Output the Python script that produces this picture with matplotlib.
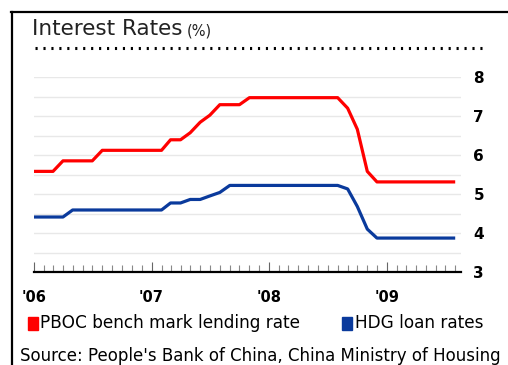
import numpy as np
import pandas as pd
import matplotlib
matplotlib.use('Agg')
import matplotlib.pyplot as plt
import matplotlib.dates as mdates
from matplotlib.lines import Line2D
from matplotlib.patches import Rectangle

# monthly observations, Jan 2006 .. Aug 2009
months = pd.date_range('2006-01-01', '2009-08-01', freq='MS')
pboc = [5.58, 5.58, 5.58, 5.85, 5.85, 5.85, 5.85, 6.12, 6.12, 6.12, 6.12,
        6.12, 6.12, 6.12, 6.39, 6.39, 6.57, 6.84, 7.02, 7.29, 7.29, 7.29,
        7.47, 7.47, 7.47, 7.47, 7.47, 7.47, 7.47, 7.47, 7.47, 7.47,
        7.20, 6.66, 5.58, 5.31, 5.31, 5.31, 5.31, 5.31, 5.31, 5.31, 5.31, 5.31]
hdg = [4.41, 4.41, 4.41, 4.41, 4.59, 4.59, 4.59, 4.59, 4.59, 4.59, 4.59,
       4.59, 4.59, 4.59, 4.77, 4.77, 4.86, 4.86, 4.95, 5.04, 5.22, 5.22,
       5.22, 5.22, 5.22, 5.22, 5.22, 5.22, 5.22, 5.22, 5.22, 5.22,
       5.13, 4.68, 4.10, 3.87, 3.87, 3.87, 3.87, 3.87, 3.87, 3.87, 3.87, 3.87]
year_labels = ["'06", "'07", "'08", "'09"]
y_ticks = [3, 4, 5, 6, 7, 8]
series_names = ['PBOC bench mark lending rate', 'HDG loan rates']
red = '#ff0000'
blue = '#0a3a9c'

W, H = 508, 365
fig = plt.figure(figsize=(W / 100, H / 100), dpi=100)

def fx(px):
    return px / W

def fy(py):
    return 1 - py / H

ax = fig.add_axes([fx(34), fy(272), fx(461) - fx(34), fy(77) - fy(272)])

ax.plot(months, pboc, color=red, lw=2.3, solid_joinstyle='round',
        solid_capstyle='butt', zorder=3)
ax.plot(months, hdg, color=blue, lw=2.3, solid_joinstyle='round',
        solid_capstyle='butt', zorder=3)

ax.set_xlim(pd.Timestamp('2006-01-01'), pd.Timestamp('2009-08-19'))
ax.set_ylim(3, 8)

for s in ['top', 'left', 'right']:
    ax.spines[s].set_visible(False)
ax.spines['bottom'].set_linewidth(1.6)
ax.spines['bottom'].set_color('black')

# grid every half point
for v in np.arange(3.5, 8.01, 0.5):
    ax.axhline(v, color='#e8e8e8', lw=1.0, zorder=1)

ax.xaxis.set_major_locator(mdates.YearLocator())
ax.xaxis.set_minor_locator(mdates.MonthLocator())
ax.set_xticklabels([])
ax.tick_params(axis='x', which='major', direction='in', length=7,
               width=0.8, color='#666666', labelbottom=False)
ax.tick_params(axis='x', which='minor', direction='in', length=5,
               width=0.8, color='#888888')

ax.yaxis.tick_right()
ax.set_yticks(y_ticks)
ax.set_yticklabels([str(t) for t in y_ticks], fontsize=11, fontweight='bold')
ax.tick_params(axis='y', length=0, pad=9)

for i, lab in enumerate(year_labels):
    ax.text(pd.Timestamp(f'{2006 + i}-01-01'), -0.09, lab,
            transform=ax.get_xaxis_transform(), ha='center', va='top',
            fontsize=10.5, fontweight='bold')

# frame lines
fig.add_artist(Line2D([fx(12), fx(12)], [fy(12), 0], color='black', lw=1.6))
fig.add_artist(Line2D([fx(11), 1], [fy(12), fy(12)], color='black', lw=1.6))

# title
fig.text(fx(32), fy(29), 'Interest Rates', fontsize=15.5, va='center',
         ha='left', color='#222222')
fig.text(fx(187), fy(31), '(%)', fontsize=10.5, va='center', ha='left',
         color='#222222')
fig.add_artist(Line2D([fx(35), fx(487)], [fy(48), fy(48)], color='black',
                      lw=2.2, linestyle=(0, (0.7, 1.9))))

# legend
fig.add_artist(Rectangle((fx(28), fy(330)), fx(10), fy(317) - fy(330),
                         color=red, transform=fig.transFigure))
fig.text(fx(40), fy(323), series_names[0], fontsize=12.2, va='center',
         ha='left')
fig.add_artist(Rectangle((fx(342), fy(330)), fx(10), fy(317) - fy(330),
                         color=blue, transform=fig.transFigure))
fig.text(fx(355), fy(323), series_names[1], fontsize=12.2, va='center',
         ha='left')

fig.text(fx(20), fy(356), "Source: People's Bank of China, China Ministry of Housing",
         fontsize=12, va='center', ha='left')

fig.savefig('out.png', dpi=100)
